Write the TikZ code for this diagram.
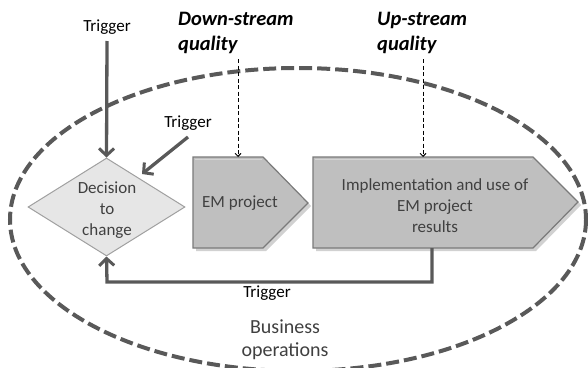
\documentclass[tikz,border=0pt]{standalone}
\usepackage{fontspec}
\setmainfont{Carlito}
\usetikzlibrary{arrows.meta,shapes.geometric}
\definecolor{arrowgray}{HTML}{595959}
\definecolor{boxfill}{HTML}{BFBFBF}
\definecolor{boxedge}{HTML}{7A7A7A}
\definecolor{boxhi}{HTML}{D4D4D4}
\definecolor{diafill}{HTML}{E6E6E6}
\definecolor{diaedge}{HTML}{A0A0A0}
\definecolor{txtgray}{HTML}{404040}
\tikzset{
  x=1pt, y=-1pt,
  basefont/.style={font=\fontsize{17}{21}\selectfont},
  lbl/.style={basefont, text=black, inner sep=0pt},
  boxtext/.style={basefont, text=txtgray, align=center, inner sep=0pt},
  bigtext/.style={font=\fontsize{20}{23}\selectfont, text=txtgray, align=center, inner sep=0pt},
  headtext/.style={font=\fontsize{20.5}{25}\selectfont\bfseries\itshape, align=left, inner sep=0pt, anchor=west},
  chevron/.style={fill=boxfill, draw=boxedge, line width=1.2pt, line join=miter},
  hiline/.style={draw=boxhi, line width=1.2pt},
  shadowfill/.style={fill=black, opacity=0.18},
  trig/.style={draw=arrowgray, line width=3.3pt, -{Straight Barb[length=7pt,width=15pt,line width=3pt]}},
  qual/.style={draw=black, line width=0.9pt, dash pattern=on 4pt off 2.5pt, -{Straight Barb[length=3pt,width=6pt,line width=0.9pt]}},
  oval/.style={draw=arrowgray, line width=4pt, dash pattern=on 13pt off 5pt},
}
\begin{document}
\begin{tikzpicture}
\useasboundingbox (0,0) rectangle (588,367);
% business operations ellipse
\draw[oval] (298,219.5) ellipse [x radius=288, y radius=151.5];

% shadows
\fill[shadowfill] (196,160) -- (266,160) -- (311,206) -- (266,251) -- (196,251) -- cycle;
\fill[shadowfill] (316,160) -- (536,160) -- (581,205) -- (536,251) -- (316,251) -- cycle;

% diamond
\node[diamond, draw=diaedge, fill=diafill, line width=1pt, inner sep=0pt,
      minimum width=157pt, minimum height=98pt] (dec) at (106.5,207) {};
\node[boxtext] (dectext) at (107,210) {Decision\\to\\change};

% EM project chevron
\draw[chevron] (193,157) -- (263,157) -- (308,203) -- (263,248) -- (193,248) -- cycle;
\draw[hiline] (195,159.5) -- (262,159.5);
\node[boxtext] (em) at (240,203) {EM project};

% Implementation chevron
\draw[chevron] (313,157) -- (533,157) -- (578,202) -- (533,248) -- (313,248) -- cycle;
\draw[hiline] (315,159.5) -- (532,159.5);
\node[boxtext] (impl) at (435,206) {Implementation and use of\\EM project\\results};

% anchors on the shapes
\coordinate (emtop) at (238,157);
\coordinate (imtop) at (423,157);
\coordinate (imbot) at (432,248);
\coordinate (corner1) at (432,282);
\coordinate (corner2) at (107,282);
\coordinate (dne) at (142,174);

% quality labels
\node[headtext] (down) at (178,32.5) {Down-stream\\quality};
\node[headtext] (up) at (377,32.5) {Up-stream\\quality};
\coordinate (downstart) at (238,59);
\coordinate (upstart) at (423,59);
\draw[qual] (downstart) -- (emtop);
\draw[qual] (upstart) -- (imtop);

% triggers
\node[lbl] (trig1) at (107,27) {Trigger};
\node[lbl] (trig2) at (188,123) {Trigger};
\node[lbl] (trig3) at (267,293) {Trigger};
\coordinate (t1start) at (107,41);
\coordinate (t2start) at (188,137);
\draw[trig] (t1start) -- (dec.north);
\draw[trig] (t2start) -- (dne);
\draw[trig, line join=miter] (imbot) -- (corner1) -- (corner2) -- (dec.south);

% business operations label
\node[bigtext] (biztext) at (285,340) {Business\\operations};
\end{tikzpicture}
\end{document}
